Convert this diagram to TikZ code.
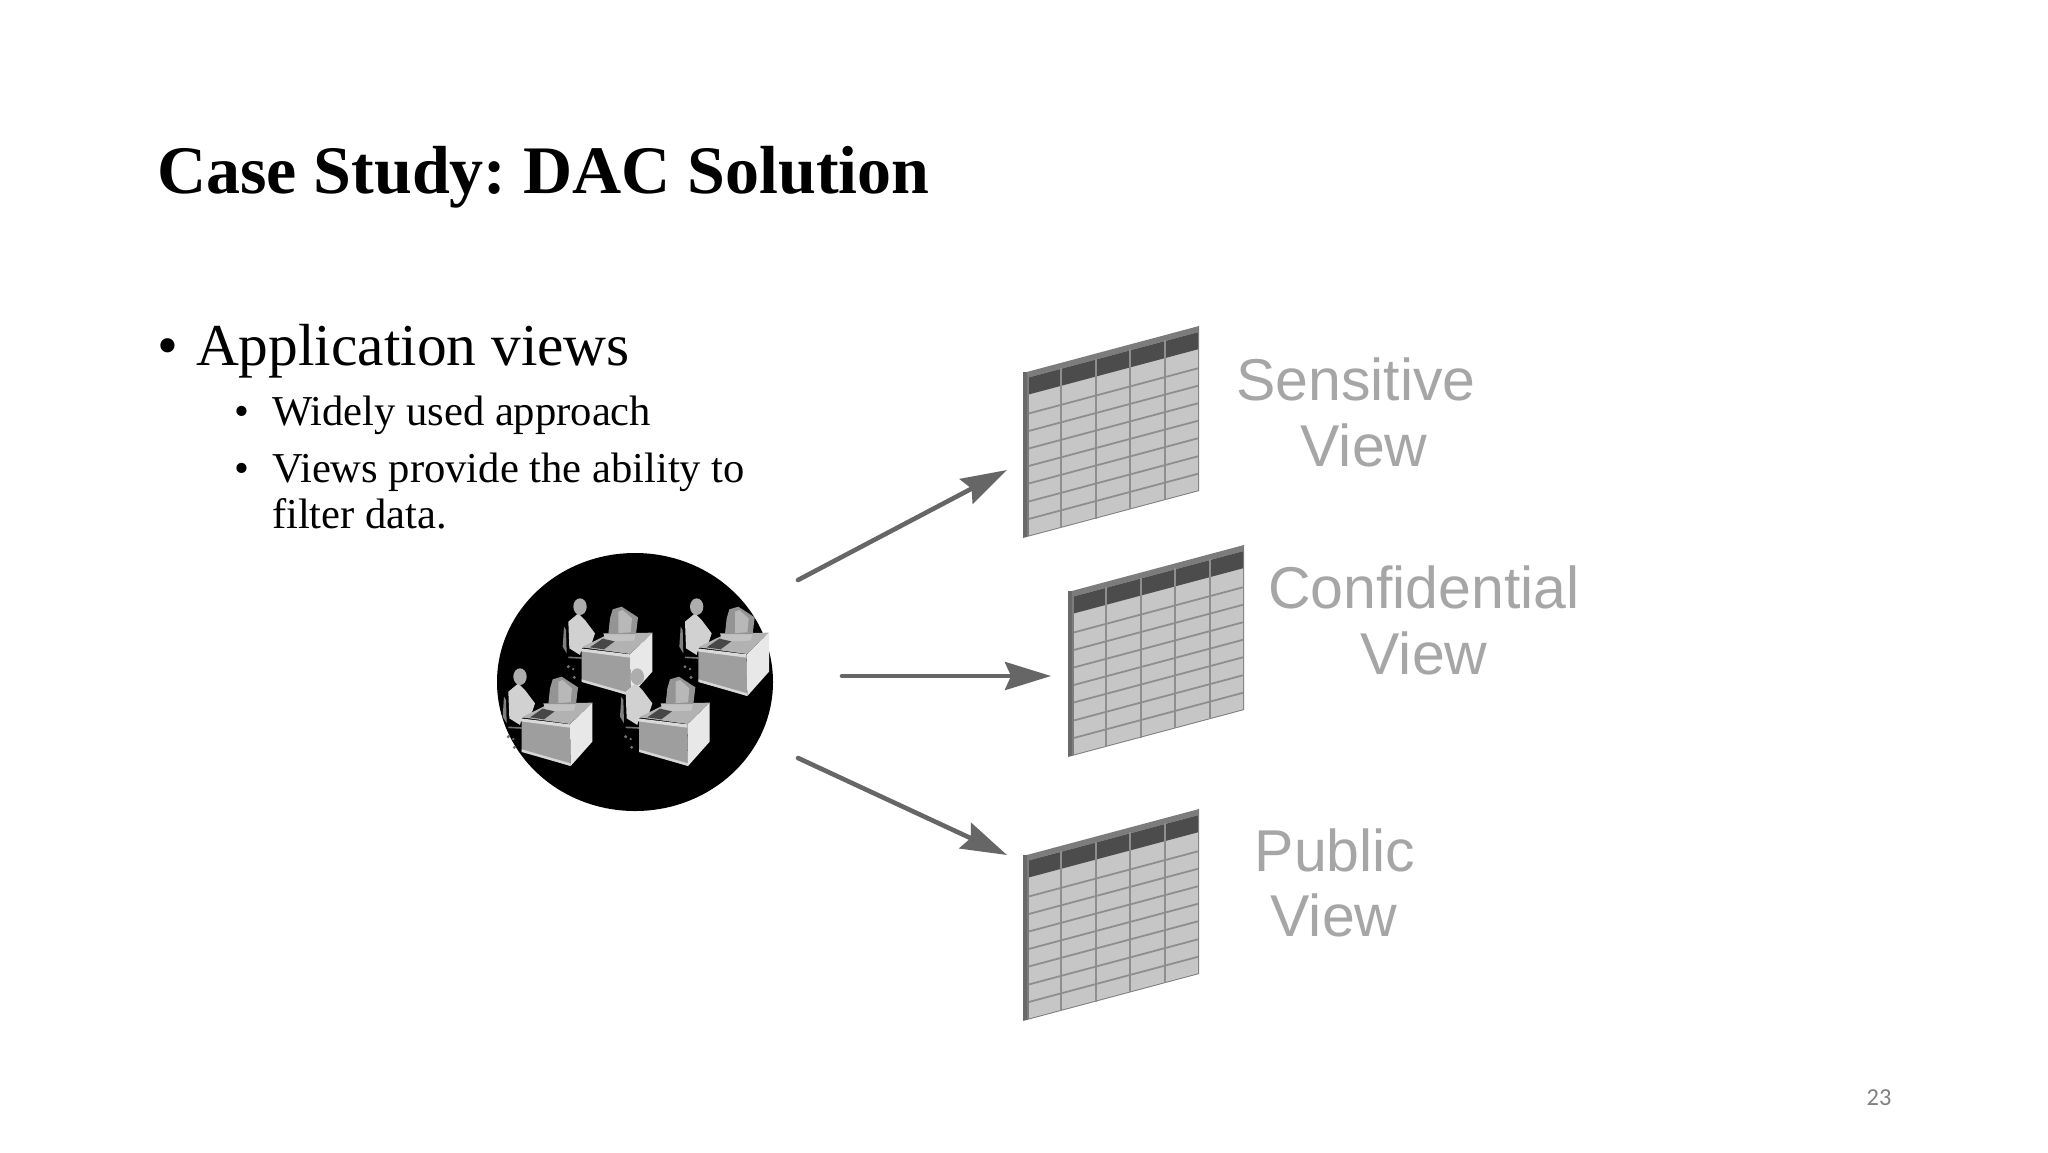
\documentclass[tikz,border=0pt]{standalone}
\usepackage{fontspec}
\setmainfont{Liberation Serif}
\newfontfamily\lblfont{Liberation Sans}
\newfontfamily\numfont{Carlito}
\usetikzlibrary{arrows.meta}
\definecolor{frameg}{HTML}{7C7C7C}
\definecolor{cellg}{HTML}{C6C6C6}
\definecolor{lineg}{HTML}{8E8E8E}
\definecolor{headg}{HTML}{4C4C4C}
\definecolor{arrowg}{HTML}{666666}
\definecolor{labelg}{HTML}{A6A6A6}
\tikzset{
  txt/.style={anchor=base west,inner sep=0pt,outer sep=0pt,text=black},
  viewlabel/.style={anchor=base,inner sep=0pt,outer sep=0pt,text=labelg,font=\lblfont\fontsize{29.5}{32}\selectfont},
  flow/.style={draw=arrowg,line width=2.3pt,line cap=round,-{Stealth[length=23pt,width=14pt,inset=3pt]}},
  deskfront/.style={fill=black!38},
  deskside/.style={fill=black!9},
  desktop/.style={fill=black!30},
  body/.style={fill=black!18},
  skin/.style={fill=black!32},
}
\newcommand{\viewtable}[2]{%
  \begin{scope}[shift={(#1,#2)},yslant=0.267]
    \fill[frameg] (0,0) rectangle (176,165);
    \fill[cellg] (6,6) rectangle (175,164);
    \fill[headg] (6,6) rectangle (175,23);
    \foreach \v in {42,59.5,77,94.5,112,130,147.5}
      \draw[lineg,line width=0.9pt] (6,\v) -- (175,\v);
    \foreach \u in {38,73,107,142}
      \draw[lineg,line width=1.3pt] (\u,5) -- (\u,165);
    \draw[frameg!85!black,line width=1.6pt] (2,0) -- (2,165);
  \end{scope}}
\newcommand{\station}[2]{%
  \begin{scope}[shift={(480,540)},xscale=1/3,yscale=1/3,shift={(#1,#2)}]
    % chair and castors
    \fill[black!50] (78,480) -- (72,470) -- (68,530) -- (80,550) -- cycle;
    \fill[black!55] (85,590) circle (5); \fill[black!55] (103,622) circle (5); \fill[black!55] (100,597) circle (4);
    \draw[black!55,line width=0.8pt] (85,562) -- (125,564);
    % person
    \fill[body] (85,455) -- (115,430) -- (135,450) -- (165,490) -- (155,520) -- (125,535) -- (120,555) -- (88,535) -- cycle;
    \fill[skin] (120,410) ellipse (20 and 25);
    % desk top and monitor
    \fill[desktop] (125,532) -- (210,490) -- (337,488) -- (270,552) -- cycle;
    \fill[black!24] (190,490) -- (288,490) -- (282,512) -- (198,514) -- cycle;
    \fill[black!42] (218,418) -- (245,410) -- (294,442) -- (288,492) -- (205,492) -- (210,445) -- cycle;
    \fill[black!28] (235,425) -- (248,420) -- (276,445) -- (272,487) -- (235,489) -- cycle;
    % keyboard
    \fill[black!72] (150,532) -- (188,506) -- (224,514) -- (192,538) -- cycle;
    % desk body
    \fill[deskfront] (125,540) -- (270,562) -- (272,678) -- (125,632) -- cycle;
    \fill[black!15] (122,535) -- (270,553) -- (270,563) -- (122,544) -- cycle;
    \fill[deskside] (270,553) -- (337,488) -- (337,605) -- (272,678) -- cycle;
    \fill[black!16] (125,628) -- (272,670) -- (272,678) -- (125,636) -- cycle;
  \end{scope}}
\begin{document}
\frenchspacing
\begin{tikzpicture}[x=0.5pt,y=-0.5pt]
  \useasboundingbox (0,0) rectangle (2048,1152);
  \fill[white] (0,0) rectangle (2048,1152);
  % texts
  \node[txt,font=\fontsize{34}{38}\selectfont\bfseries] (title) at (157,193) {Case Study: DAC Solution};
  \node[txt,font=\fontsize{29.8}{32}\selectfont] (b1) at (157,365) {•};
  \node[txt,font=\fontsize{29.7}{32}\selectfont] (t1) at (196,365) {Application views};
  \node[txt,font=\fontsize{21.3}{24}\selectfont] (b2) at (234,425) {•};
  \node[txt,font=\fontsize{21.3}{24}\selectfont] (t2) at (272,425) {Widely used approach};
  \node[txt,font=\fontsize{21.3}{24}\selectfont] (b3) at (234,482) {•};
  \node[txt,font=\fontsize{21.3}{24}\selectfont] (t3) at (272,482) {Views provide the ability to};
  \node[txt,font=\fontsize{21.3}{24}\selectfont] (t4) at (272,528) {filter data.};
  % users
  \fill[black] (635,682) ellipse (138 and 129);
  \station{180}{-210}
  \station{530}{-210}
  \station{0}{0}
  \station{352}{0}
  % tables
  \viewtable{1023}{373}
  \viewtable{1068}{592}
  \viewtable{1023}{856}
  % labels
  \node[viewlabel] (s1) at (1356,400) {Sensitive};
  \node[viewlabel] (s2) at (1364,466) {View};
  \node[viewlabel] (c1) at (1424,608) {Confidential};
  \node[viewlabel] (c2) at (1424,674) {View};
  \node[viewlabel] (p1) at (1335,871) {Public};
  \node[viewlabel] (p2) at (1334,936) {View};
  \node[anchor=base,inner sep=0pt,text=black!50,font=\numfont\fontsize{12.2}{14}\selectfont] (num) at (1879,1105) {23};
  % arrows
  \coordinate (a1s) at (798,580); \coordinate (a1e) at (1007,470);
  \coordinate (a2s) at (842,676); \coordinate (a2e) at (1051,676);
  \coordinate (a3s) at (798,758); \coordinate (a3e) at (1007,855);
  \draw[flow] (a1s) -- (a1e);
  \draw[flow] (a2s) -- (a2e);
  \draw[flow] (a3s) -- (a3e);
\end{tikzpicture}
\end{document}
